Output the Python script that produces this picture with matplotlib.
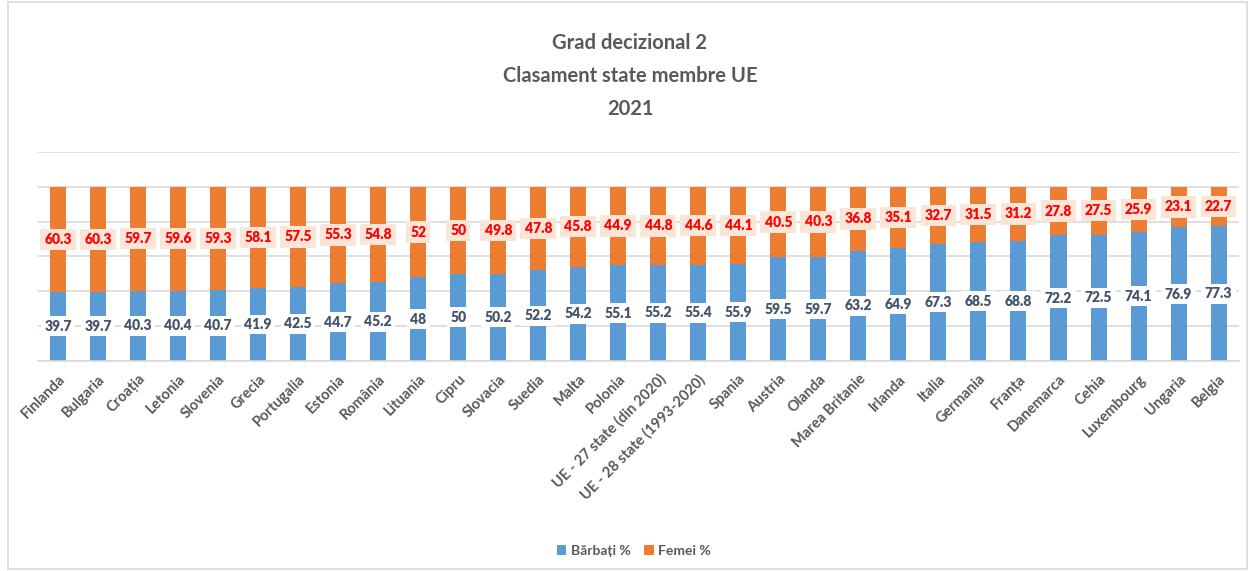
import matplotlib
matplotlib.use("Agg")
import matplotlib.pyplot as plt
from matplotlib.patches import Rectangle
import numpy as np

categories = ["Finlanda", "Bulgaria", "Croația", "Letonia", "Slovenia", "Grecia",
              "Portugalia", "Estonia", "România", "Lituania", "Cipru", "Slovacia",
              "Suedia", "Malta", "Polonia", "UE - 27 state (din 2020)",
              "UE - 28 state (1993-2020)", "Spania", "Austria", "Olanda",
              "Marea Britanie", "Irlanda", "Italia", "Germania", "Franța",
              "Danemarca", "Cehia", "Luxembourg", "Ungaria", "Belgia"]
barbati = [39.7, 39.7, 40.3, 40.4, 40.7, 41.9, 42.5, 44.7, 45.2, 48, 50, 50.2,
           52.2, 54.2, 55.1, 55.2, 55.4, 55.9, 59.5, 59.7, 63.2, 64.9, 67.3,
           68.5, 68.8, 72.2, 72.5, 74.1, 76.9, 77.3]
femei = [60.3, 60.3, 59.7, 59.6, 59.3, 58.1, 57.5, 55.3, 54.8, 52, 50, 49.8,
         47.8, 45.8, 44.9, 44.8, 44.6, 44.1, 40.5, 40.3, 36.8, 35.1, 32.7,
         31.5, 31.2, 27.8, 27.5, 25.9, 23.1, 22.7]
title_lines = ["Grad decizional 2", "Clasament state membre UE", "2021"]
series_names = ["Bărbați %", "Femei %"]

FONT = ["Lato", "DejaVu Sans"]
plt.rcParams['font.family'] = FONT

blue = "#5B9BD5"
orange = "#ED7D31"
grey = "#595959"

fig = plt.figure(figsize=(12.6, 5.71), dpi=100)
ax = fig.add_axes([0.0302, 0.3678, 0.9528, 0.366])

x = np.arange(len(categories))
b1 = ax.bar(x, barbati, width=0.4, color=blue, label=series_names[0], zorder=2)
b2 = ax.bar(x, femei, width=0.4, bottom=barbati, color=orange, label=series_names[1], zorder=2)

for xi, m, f in zip(x, barbati, femei):
    ax.text(xi, m / 2, f"{m:g}", ha='center', va='center', fontsize=10,
            fontweight='heavy', color="#44546A", zorder=3,
            bbox=dict(boxstyle='square,pad=0.25', fc='white', ec='none'))
    ax.text(xi, m + f / 2, f"{f:g}", ha='center', va='center', fontsize=10,
            fontweight='heavy', color="#FF0000", zorder=3,
            bbox=dict(boxstyle='square,pad=0.3', fc='#FBE5D6', ec='none'))

ax.set_xlim(-0.5, len(categories) - 0.5)
ax.set_ylim(0, 120)
ax.set_yticks(np.arange(0, 121, 20))
ax.yaxis.grid(True, color="#D9D9D9", linewidth=1.2, zorder=0)
ax.set_axisbelow(True)
ax.tick_params(axis='y', left=False, labelleft=False)
ax.tick_params(axis='x', length=0, pad=8)
for s in ['top', 'right', 'left']:
    ax.spines[s].set_visible(False)
ax.spines['bottom'].set_color("#D9D9D9")
ax.spines['bottom'].set_linewidth(1.2)

ax.set_xticks(x)
ax.set_xticklabels(categories, rotation=45, ha='right', rotation_mode='anchor',
                   fontsize=10.5, fontweight='bold', color=grey)

for i, line in enumerate(title_lines):
    fig.text(0.5, 0.925 - i * 0.058, line, ha='center', va='center',
             fontsize=14.5, fontweight='bold', color=grey)

leg = fig.legend(handles=[b1, b2], labels=series_names, loc='center',
                 bbox_to_anchor=(0.503, 0.035), ncol=2, frameon=False,
                 handlelength=0.7, handleheight=0.7, handletextpad=0.3,
                 columnspacing=1.0, prop=dict(family=FONT, weight='bold', size=10))
for t in leg.get_texts():
    t.set_color(grey)

fig.patches.append(Rectangle((0.0063, 0.003), 0.9835, 0.994, transform=fig.transFigure,
                             fill=False, ec="#D9D9D9", lw=1.2))

fig.savefig("out.png", dpi=100)
